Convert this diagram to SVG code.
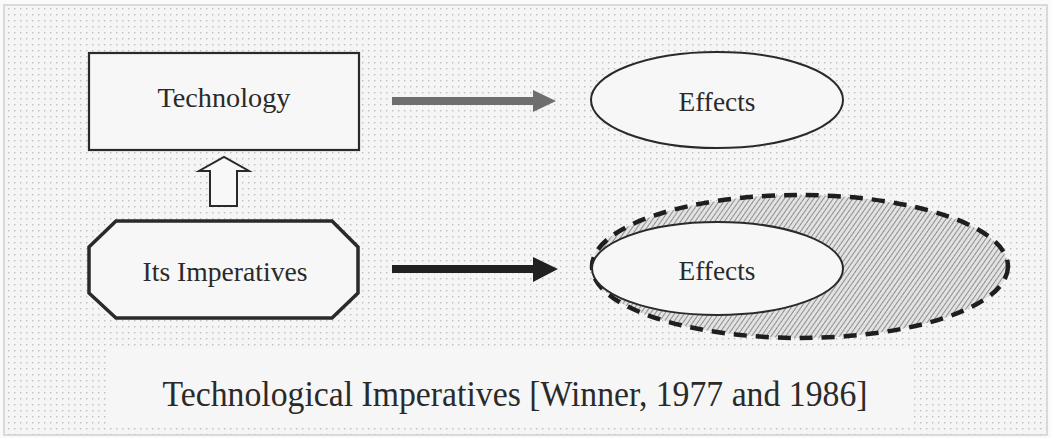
<svg xmlns="http://www.w3.org/2000/svg" width="1051" height="438" viewBox="0 0 1051 438">
  <style>
    .lbl { font-family: "Liberation Serif", "Times New Roman", serif; fill: #2a2a2a; text-anchor: middle; }
    .node { fill: #f7f7f7; stroke: #2a2a2a; }
  </style>
  <defs>
    <pattern id="dots" width="6" height="6" patternUnits="userSpaceOnUse">
      <rect width="6" height="6" fill="#f5f5f5"/>
      <rect x="2" y="2" width="1.4" height="1.4" fill="#bdbdbd"/>
    </pattern>
    <pattern id="hatch" width="4" height="4" patternUnits="userSpaceOnUse" patternTransform="rotate(35)">
      <rect width="4" height="4" fill="#e2e2e2"/>
      <line x1="0" y1="0" x2="0" y2="4" stroke="#7a7a7a" stroke-width="1.6"/>
    </pattern>
  </defs>

  <rect width="1051" height="438" fill="#fafafa"/>
  <rect x="4" y="5" width="1043" height="430" fill="url(#dots)" stroke="#d0d0d0" stroke-width="1.5"/>

  <g id="caption">
    <rect x="110" y="348" width="803" height="79" fill="#f6f6f6"/>
    <text class="lbl" x="515" y="406" font-size="35" textLength="705" lengthAdjust="spacingAndGlyphs">Technological Imperatives [Winner, 1977 and 1986]</text>
  </g>

  <g id="technology">
    <rect class="node" x="89" y="53" width="270" height="97" stroke-width="2.2"/>
    <text class="lbl" x="224" y="107" font-size="28" textLength="133" lengthAdjust="spacingAndGlyphs">Technology</text>
  </g>

  <g id="imperatives">
    <polygon class="node" points="116,221 332,221 358,247 358,293 332,318 116,318 89,293 89,247" stroke-width="3.5"/>
    <text class="lbl" x="225" y="281" font-size="27" textLength="165" lengthAdjust="spacingAndGlyphs">Its Imperatives</text>
  </g>

  <g id="effects-top">
    <ellipse class="node" cx="717" cy="100" rx="126" ry="48" stroke-width="2"/>
    <text class="lbl" x="717" y="111" font-size="27" textLength="77" lengthAdjust="spacingAndGlyphs">Effects</text>
  </g>

  <g id="effects-bottom">
    <ellipse cx="800" cy="266.5" rx="208" ry="71.5" fill="url(#hatch)" stroke="#1e1e1e" stroke-width="4.5" stroke-dasharray="13 9"/>
    <ellipse class="node" cx="717.5" cy="268.5" rx="125.5" ry="46.5" stroke-width="2"/>
    <text class="lbl" x="717" y="280" font-size="27" textLength="77" lengthAdjust="spacingAndGlyphs">Effects</text>
  </g>

  <g id="connectors">
    <polygon points="392,97 533,97 533,90 556,101 533,112 533,105 392,105" fill="#6e6e6e"/>
    <polygon points="392,265 533,265 533,257 558,269 533,282 533,273 392,273" fill="#202020"/>
    <polygon points="210,206 210,171 199,171 224,157 249,171 237,171 237,206" fill="#f8f8f8" stroke="#2a2a2a" stroke-width="2"/>
  </g>
</svg>
